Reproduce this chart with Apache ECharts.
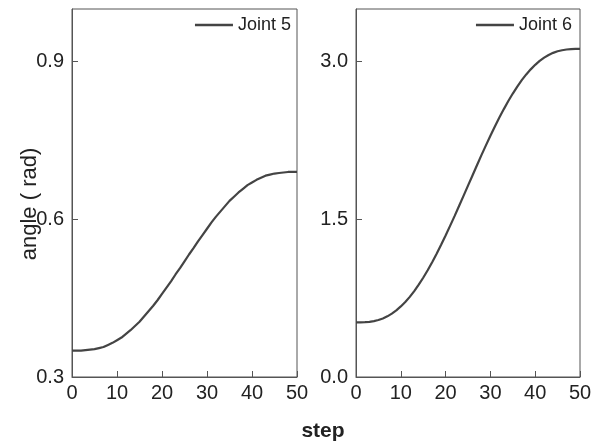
<!DOCTYPE html>
<html>
<head>
<meta charset="utf-8">
<script src="https://cdn.jsdelivr.net/npm/echarts@6/dist/echarts.min.js"></script>
<style>
  html, body { margin: 0; padding: 0; background: #fff; }
  #chart { width: 603px; height: 446px; }
</style>
</head>
<body>
<div id="chart"></div>
<script>
// Joint trajectories over 50 planning steps (angles in radians)
const steps = [];
for (let i = 0; i <= 50; i++) steps.push(i);

const joint5 = [
  0.350, 0.350, 0.350, 0.351, 0.352, 0.353, 0.355, 0.357, 0.361, 0.365,
  0.370, 0.375, 0.382, 0.389, 0.397, 0.405, 0.415, 0.425, 0.435, 0.446,
  0.458, 0.470, 0.482, 0.495, 0.507, 0.520, 0.533, 0.545, 0.558, 0.570,
  0.582, 0.594, 0.605, 0.615, 0.625, 0.635, 0.643, 0.651, 0.658, 0.665,
  0.670, 0.675, 0.679, 0.683, 0.685, 0.687, 0.688, 0.689, 0.690, 0.690,
  0.690
];

const joint6 = [
  0.520, 0.520, 0.522, 0.525, 0.532, 0.542, 0.557, 0.577, 0.603, 0.634,
  0.671, 0.714, 0.762, 0.817, 0.878, 0.944, 1.015, 1.092, 1.172, 1.257,
  1.345, 1.437, 1.530, 1.626, 1.723, 1.820, 1.917, 2.014, 2.110, 2.203,
  2.295, 2.383, 2.468, 2.548, 2.625, 2.696, 2.762, 2.823, 2.878, 2.926,
  2.969, 3.006, 3.037, 3.063, 3.083, 3.098, 3.108, 3.115, 3.118, 3.120,
  3.120
];

const xTicks = [0, 10, 20, 30, 40, 50];
const yTicksJoint5 = [0.3, 0.6, 0.9];
const yTicksJoint6 = [0.0, 1.5, 3.0];

const FONT = '"Liberation Sans", Arial, sans-serif';
const INK = '#222';
const FRAME = '#555';
const LINE = '#444';

function pairs(xs, ys) {
  return xs.map((x, i) => [x, ys[i]]);
}

function xAxisFor(gridIndex) {
  return {
    type: 'value', gridIndex: gridIndex, min: 0, max: 50,
    axisLine: { show: true, lineStyle: { color: FRAME, width: 1 } },
    axisTick: { show: true, inside: true, length: 6, customValues: xTicks,
                lineStyle: { color: FRAME, width: 1 } },
    axisLabel: { customValues: xTicks, margin: 6, fontSize: 20, color: INK,
                 fontFamily: FONT },
    splitLine: { show: false }
  };
}

function yAxisFor(gridIndex, min, max, ticks) {
  return {
    type: 'value', gridIndex: gridIndex, min: min, max: max,
    axisLine: { show: true, lineStyle: { color: FRAME, width: 1 } },
    axisTick: { show: true, inside: true, length: 6, customValues: ticks,
                lineStyle: { color: FRAME, width: 1 } },
    axisLabel: { customValues: ticks, margin: 8, fontSize: 20, color: INK,
                 fontFamily: FONT, formatter: v => v.toFixed(1) },
    splitLine: { show: false }
  };
}

function legendFor(name, right) {
  return {
    data: [name], top: 11, right: right, icon: 'rect',
    itemWidth: 38, itemHeight: 2.5, itemGap: 6,
    textStyle: { fontSize: 18, color: INK, fontFamily: FONT },
    selectedMode: false
  };
}

const chart = echarts.init(document.getElementById('chart'), null, { renderer: 'canvas' });

chart.setOption({
  animation: false,
  backgroundColor: '#fff',
  grid: [
    { left: 72, top: 9, width: 225, height: 368, show: true,
      borderColor: FRAME, borderWidth: 1, backgroundColor: 'transparent' },
    { left: 356, top: 9, width: 224, height: 368, show: true,
      borderColor: FRAME, borderWidth: 1, backgroundColor: 'transparent' }
  ],
  xAxis: [xAxisFor(0), xAxisFor(1)],
  yAxis: [
    yAxisFor(0, 0.3, 1.0, yTicksJoint5),
    yAxisFor(1, 0.0, 3.5, yTicksJoint6)
  ],
  legend: [legendFor('Joint 5', 307), legendFor('Joint 6', 26)],
  series: [
    { name: 'Joint 5', type: 'line', xAxisIndex: 0, yAxisIndex: 0,
      data: pairs(steps, joint5), showSymbol: false, symbol: 'none',
      lineStyle: { color: LINE, width: 2.2 }, itemStyle: { color: LINE } },
    { name: 'Joint 6', type: 'line', xAxisIndex: 1, yAxisIndex: 1,
      data: pairs(steps, joint6), showSymbol: false, symbol: 'none',
      lineStyle: { color: LINE, width: 2.2 }, itemStyle: { color: LINE } }
  ],
  graphic: [
    { type: 'text', x: 323, y: 431,
      style: { text: 'step', fontSize: 21, fontWeight: 'bold', fill: INK,
               fontFamily: FONT, align: 'center', verticalAlign: 'middle' } },
    { type: 'text', x: 30, y: 204, rotation: Math.PI / 2,
      style: { text: 'angle ( rad)', fontSize: 22, fill: INK,
               fontFamily: FONT, align: 'center', verticalAlign: 'middle' } }
  ]
});
</script>
</body>
</html>
